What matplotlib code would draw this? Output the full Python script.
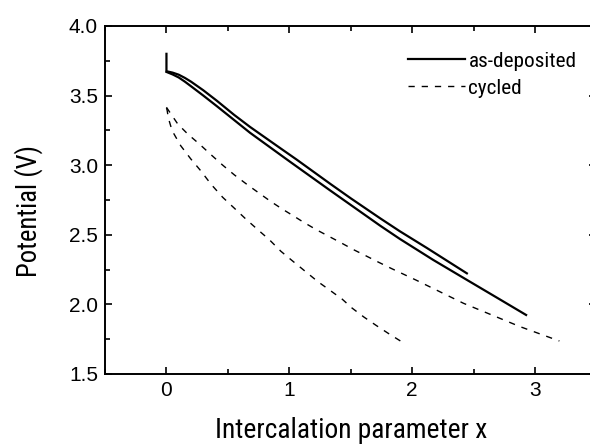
"""Discharge curves: potential vs intercalation parameter, as-deposited vs cycled."""

import matplotlib

matplotlib.use("Agg")

import matplotlib.pyplot as plt
from matplotlib import font_manager
from matplotlib.font_manager import FontProperties
from matplotlib.ticker import FormatStrFormatter, MultipleLocator

# as-deposited, two discharge curves (solid)
dep1_x = [0, 0, 0.05, 0.10, 0.15, 0.20, 0.30, 0.41, 0.55, 0.68, 0.93, 1.06, 1.33, 1.50, 1.74, 1.90, 2.12, 2.445]
dep1_y = [3.80, 3.675, 3.665, 3.65, 3.627, 3.60, 3.538, 3.463, 3.362, 3.275, 3.12, 3.04, 2.868, 2.762, 2.618, 2.525, 2.405, 2.223]
dep2_x = [0, 0.05, 0.10, 0.15, 0.20, 0.30, 0.41, 0.55, 0.68, 0.93, 1.01, 1.33, 1.74, 1.90, 2.17, 2.445, 2.715, 2.927]
dep2_y = [3.67, 3.652, 3.63, 3.60, 3.567, 3.50, 3.424, 3.325, 3.233, 3.073, 3.022, 2.82, 2.565, 2.47, 2.32, 2.176, 2.035, 1.924]

# cycled, two discharge curves (dashed)
cyc1_x = [0.0, 0.005, 0.092, 0.173, 0.268, 0.363, 0.458, 0.553, 0.661, 0.756, 0.851, 0.946,
          1.035, 1.116, 1.225, 1.328, 1.428, 1.523, 1.632, 1.726, 1.835, 1.929, 2.035,
          2.417, 2.878, 3.198]
cyc1_y = [3.416, 3.409, 3.296, 3.224, 3.152, 3.075, 3.0, 2.930, 2.858, 2.798, 2.738, 2.683,
          2.635, 2.59, 2.534, 2.486, 2.439, 2.393, 2.345, 2.303, 2.256, 2.217, 2.173,
          2.008, 1.84, 1.737]
cyc2_x = [0.0, 0.005, 0.016, 0.046, 0.116, 0.198, 0.279, 0.363, 0.458, 0.55, 0.645, 0.743,
          0.837, 0.932, 1.033, 1.133, 1.233, 1.331, 1.431, 1.51, 1.607, 1.71, 1.805,
          1.908, 1.937]
cyc2_y = [3.41, 3.397, 3.337, 3.248, 3.14, 3.045, 2.96, 2.863, 2.769, 2.693, 2.614, 2.537,
          2.465, 2.381, 2.307, 2.235, 2.163, 2.101, 2.037, 1.974, 1.909, 1.847, 1.792,
          1.735, 1.725]

x_range = (-0.5, 3.5)
y_range = (1.5, 4.0)
x_label = "Intercalation parameter x"
y_label = "Potential (V)"
series_labels = ["as-deposited", "cycled"]


def narrow_font():
    """Find a narrow/condensed sans face if one is installed."""
    wanted = ["Liberation Sans Narrow", "Arial Narrow", "Roboto Condensed",
              "DejaVu Sans", "Noto Sans", "Open Sans Condensed", "Open Sans"]
    for name in wanted:
        for f in font_manager.fontManager.ttflist:
            if f.name != name or f.style != "normal":
                continue
            if f.weight not in (400, "normal", "regular", "book"):
                continue
            narrow = "Narrow" in name or "Condensed" in name or "ondensed" in str(f.stretch)
            if narrow:
                return FontProperties(fname=f.fname)
    return FontProperties(family="Liberation Sans")


plt.rcParams["font.family"] = ["Liberation Sans", "DejaVu Sans"]
label_fp = narrow_font()

fig = plt.figure(figsize=(5.9, 4.45), dpi=100)
# axes run past the right edge, as in the reference crop
ax = fig.add_axes([0.178, 0.1596, 0.833, 0.782])
renderer = fig.canvas.get_renderer()


def size_for(s, target_px):
    """Font size that gives the text the reference's width in pixels."""
    t = fig.text(0, 0, s, fontproperties=label_fp, fontsize=20)
    w = t.get_window_extent(renderer).width
    t.remove()
    return 20 * target_px / w


ax.plot(dep1_x, dep1_y, color="black", lw=1.6, label=series_labels[0])
ax.plot(dep2_x, dep2_y, color="black", lw=1.6)
ax.plot(cyc1_x, cyc1_y, color="black", lw=1.0, dashes=(4.5, 5), label=series_labels[1])
ax.plot(cyc2_x, cyc2_y, color="black", lw=1.0, dashes=(4.5, 5))

ax.set_xlim(*x_range)
ax.set_ylim(*y_range)
ax.xaxis.set_major_locator(MultipleLocator(1))
ax.xaxis.set_minor_locator(MultipleLocator(0.5))
ax.yaxis.set_major_locator(MultipleLocator(0.5))
ax.yaxis.set_minor_locator(MultipleLocator(0.25))
ax.yaxis.set_major_formatter(FormatStrFormatter("%.1f"))

for s in ax.spines.values():
    s.set_linewidth(1.4)
ax.tick_params(which="both", direction="in", top=True, right=True, width=1.2)
ax.tick_params(which="major", length=5, labelsize=15, pad=5)
ax.tick_params(which="minor", length=3.5)

ax.set_xlabel(x_label, fontproperties=label_fp, fontsize=size_for(x_label, 272))
ax.set_ylabel(y_label, fontproperties=label_fp, fontsize=size_for(y_label, 132))
ax.xaxis.set_label_coords(0.5, -0.124)
ax.yaxis.set_label_coords(-0.126, 0.468)

leg_fp = label_fp.copy()
leg_fp.set_size(size_for(series_labels[0], 108))
leg_size = leg_fp.get_size_in_points()
ax.legend(loc="upper left", bbox_to_anchor=(0.6165, 0.926), frameon=False,
          prop=leg_fp, handlelength=41 / leg_size, handletextpad=2.5 / leg_size,
          borderpad=0, borderaxespad=0, labelspacing=0.38)

fig.savefig("out.png", dpi=100)
